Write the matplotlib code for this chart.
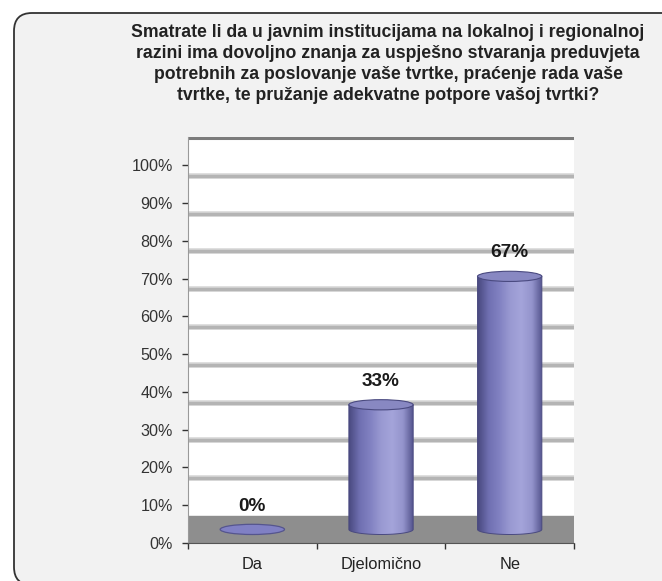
import numpy as np
import matplotlib
matplotlib.use('Agg')
import matplotlib.pyplot as plt
from matplotlib.patches import Ellipse, FancyBboxPatch, PathPatch
from matplotlib.path import Path
from matplotlib.colors import LinearSegmentedColormap

plt.rcParams['font.family'] = ['Liberation Sans', 'DejaVu Sans']

title = ('Smatrate li da u javnim institucijama na lokalnoj i regionalnoj\n'
         'razini ima dovoljno znanja za uspješno stvaranja preduvjeta\n'
         'potrebnih za poslovanje vaše tvrtke, praćenje rada vaše\n'
         'tvrtke, te pružanje adekvatne potpore vašoj tvrtki?')
categories = ['Da', 'Djelomično', 'Ne']
values = [0, 33, 67]
value_labels = ['0%', '33%', '67%']
yticks = [0, 10, 20, 30, 40, 50, 60, 70, 80, 90, 100]

depth = 7.2          # 3d floor depth, in %
base = depth / 2     # cylinders stand in the middle of the floor
bar_w = 0.5
ell_h = 2.7

fig = plt.figure(figsize=(6.62, 5.81), dpi=100)
fig.patch.set_facecolor('white')

# background panel with rounded corner
bg = fig.add_axes([0, 0, 1, 1])
bg.set_xlim(0, 662)
bg.set_ylim(581, 0)
bg.axis('off')
bg.add_patch(FancyBboxPatch((14, 13), 700, 572,
                            boxstyle='round,pad=0,rounding_size=18',
                            fc='#f2f2f2', ec='#333333', lw=1.3))

fig.text(388 / 662, 1 - 24 / 581, title, ha='center', va='top',
         fontsize=12.7, fontweight='bold', color='#222222', linespacing=1.32)

ax = fig.add_axes([188 / 662, 38 / 581, 386 / 662, 406 / 581])
ax.set_facecolor('white')
ax.set_xlim(-0.5, 2.5)
ax.set_ylim(0, 107.5)

# floor and back-wall gridlines
ax.axhspan(0, depth, color='#8e8e8e', zorder=1)
for v in yticks[1:-1]:
    ax.axhline(v + depth, color='#d6d6d6', lw=4, zorder=0.4)
    ax.axhline(v + depth, color='#b4b4b4', lw=2.4, zorder=0.5)
ax.axhline(100 + depth, color='#7c7c7c', lw=2.2, zorder=0.5)

cmap = LinearSegmentedColormap.from_list(
    'cyl', ['#4a4a80', '#7070b2', '#8282c2', '#9a9ad2', '#a4a4da', '#9494cc', '#50508a'])
grad = np.linspace(0, 1, 256).reshape(1, -1)

for i, v in enumerate(values):
    x0, x1 = i - bar_w / 2, i + bar_w / 2
    top = base + v
    if v > 0:
        t = np.linspace(np.pi, 2 * np.pi, 60)
        verts = [(x0, top)] + list(zip(i + bar_w / 2 * np.cos(t),
                                       base + ell_h / 2 * np.sin(t))) + [(x1, top), (x0, top)]
        codes = [Path.MOVETO] + [Path.LINETO] * (len(verts) - 2) + [Path.CLOSEPOLY]
        path = Path(verts, codes)
        im = ax.imshow(grad, extent=(x0, x1, base - ell_h / 2, top), aspect='auto',
                       cmap=cmap, zorder=3, interpolation='bicubic')
        pp = PathPatch(path, fc='none', ec='#4a4a80', lw=0.7, zorder=3.5)
        ax.add_patch(pp)
        im.set_clip_path(pp)
        ax.add_patch(Ellipse((i, top), bar_w, ell_h, fc='#8888c2', ec='#4a4a80',
                             lw=0.8, zorder=4))
    else:
        ax.add_patch(Ellipse((i, top), bar_w, ell_h, fc='#8080c4', ec='#55558e',
                             lw=0.9, zorder=4))
    ax.text(i, v + 8.6, value_labels[i], ha='center', va='baseline',
            fontsize=13.7, fontweight='bold', color='#1a1a1a', zorder=5)

ax.set_yticks(yticks)
ax.set_yticklabels([f'{v}%' for v in yticks])
ax.tick_params(axis='y', length=4, width=1, color='#333333', pad=7,
               labelsize=11.6, labelcolor='#333333')
ax.set_xticks(range(len(categories)))
ax.set_xticklabels(categories)
ax.set_xticks([-0.5, 0.5, 1.5, 2.5], minor=True)
ax.tick_params(axis='x', which='major', length=0, pad=10, labelsize=11.8,
               labelcolor='#222222')
ax.tick_params(axis='x', which='minor', length=4, width=1, color='#333333')

for s in ['top', 'right']:
    ax.spines[s].set_visible(False)
ax.spines['left'].set_color('#9a9a9a')
ax.spines['left'].set_linewidth(0.8)
ax.spines['bottom'].set_color('#555555')
ax.spines['bottom'].set_linewidth(0.8)

fig.savefig('out.png', dpi=100, facecolor=fig.get_facecolor())
